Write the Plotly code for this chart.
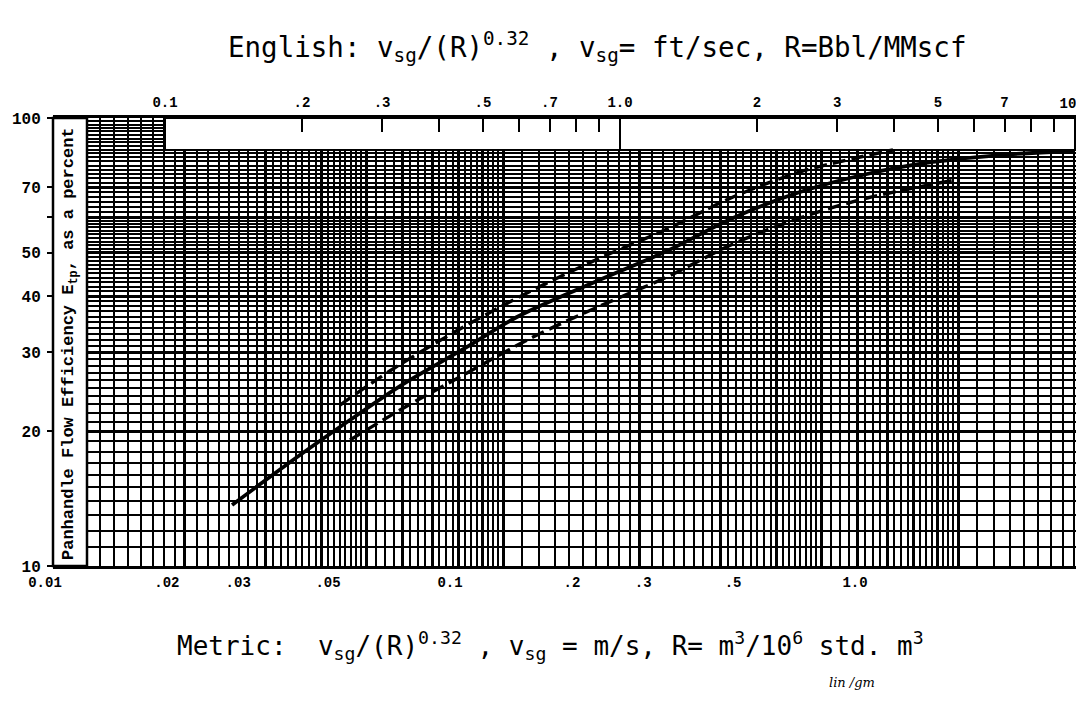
import plotly.graph_objects as go
import math

# ---------------- data ----------------
# English abscissa v_sg/(R)^0.32 (ft/sec, Bbl/MMscf) and efficiency E_tp (%)
SOLID_X = [0.1404, 0.1980, 0.2550, 0.3285, 0.4611, 0.5936, 0.8903, 1.2685, 1.772, 2.487, 3.491, 4.875, 6.842, 9.90]
SOLID_Y = [13.68, 17.69, 21.18, 25.22, 30.83, 35.95, 43.26, 50.49, 59.82, 68.35, 74.99, 79.77, 82.67, 84.39]

UPPER_X = [0.2424, 0.3170, 0.4611, 0.6439, 0.9037, 1.2685, 1.772, 2.487, 3.370, 3.981]
UPPER_Y = [22.87, 27.53, 34.51, 41.31, 48.70, 56.51, 66.63, 75.77, 81.83, 84.83]

LOWER_X = [0.2550, 0.3285, 0.4611, 0.6439, 0.9037, 1.2685, 1.772, 2.487, 3.491, 5.450]
LOWER_Y = [19.11, 22.29, 26.97, 32.44, 38.05, 44.17, 52.33, 59.82, 66.28, 72.70]

# tick labels
ENG_TICKS = [0.1, 0.2, 0.3, 0.5, 0.7, 1.0, 2, 3, 5, 7, 10]
ENG_LABELS = ["0.1", ".2", ".3", ".5", ".7", "1.0", "2", "3", "5", "7", ""]
ENG_MINOR = [0.4, 0.6, 0.8, 0.9, 4, 6, 8, 9]
ENG_LONG = [1.0, 10]
ENG_LONG_LABELS = ["", "10"]
MET_TICKS = [0.01, 0.02, 0.03, 0.05, 0.1, 0.2, 0.3, 0.5, 1.0]
MET_LABELS = ["0.01", ".02", ".03", ".05", "0.1", ".2", ".3", ".5", "1.0"]
Y_TICKS = [10, 20, 30, 40, 50, 60, 70, 100]
Y_LABELS = ["10", "20", "30", "40", "50", "", "70", "100"]

# graph-paper ruling (metric paper, cycles 0.01-0.1-1-10)
PAPER_CYCLES = [0.01, 0.1, 1.0]
PAPER_SEGMENTS = [(1, 2, 0.1), (2, 5, 0.125), (5, 10, 0.25)]
Y_SEGMENTS = [(10, 60, 1.0), (60, 100, 5 / 3)]
Y_MAJOR = [10, 20, 30, 40, 50, 60, 70, 100]

# ---------------- geometry (page pixels) ----------------
OFF = 8                      # default page margin of the browser
W, H = 1084 - OFF, 702 - 2 * OFF
PL, L, R, T, B = 30, 53, 1080, 118, 566     # plot area left, y-axis line, right, top, bottom
PW, PH = R - PL, B - T


def px_x(p):
    return (p - PL) / PW


def px_y(p):
    return (B - p) / PH


def log_range(px_ref, val_ref, px_per_dec, left):
    lo = math.log10(val_ref) + (left - px_ref) / px_per_dec
    hi = math.log10(val_ref) + (R - px_ref) / px_per_dec
    return [lo, hi]


paper_range = log_range(503, 0.1, 455, L)
eng_range = log_range(165, 0.1, 455, L)
met_range = log_range(45, 0.01, 405, PL)
box_low = 10 ** (1 + (B - 150) / PH)     # lower edge of the blank label strip


def ruling(cycles, segments, major_set=None):
    minor, major = [], []
    for c in cycles:
        for lo, hi, st in segments:
            n = int(round((hi - lo) / st))
            for i in range(n):
                v = lo + i * st
                is_major = (abs(v - round(v)) < 1e-9) if major_set is None else \
                    any(abs(v - m) < 1e-9 for m in major_set)
                (major if is_major else minor).append(c * v)
    return minor, major


x_minor, x_major = ruling(PAPER_CYCLES, PAPER_SEGMENTS)
y_minor, _ = ruling([1], Y_SEGMENTS, Y_MAJOR)

FONT_T = "DejaVu Sans Mono"
TICKFONT = dict(family="Liberation Mono", size=14, color="black", weight="bold")
YTICKFONT = dict(family="Liberation Mono", size=16, color="black", weight="bold")
d0 = px_x(L)

fig = go.Figure()
# empty traces so that every axis is drawn
for ax, ay in [("x", "y"), ("x4", "y"), ("x3", "y2")]:
    fig.add_trace(go.Scatter(x=[], y=[], xaxis=ax, yaxis=ay, mode="lines",
                             showlegend=False, hoverinfo="skip"))
# blank label strip of the chart paper (English scale box)
bx0, bx1 = ENG_TICKS[0], ENG_TICKS[-1]
fig.add_trace(go.Scatter(x=[bx0, bx1, bx1, bx0, bx0], y=[box_low, box_low, 100, 100, box_low],
                         xaxis="x2", yaxis="y", mode="lines", fill="toself",
                         fillcolor="white", line=dict(color="black", width=2),
                         showlegend=False, hoverinfo="skip"))
fig.add_trace(go.Scatter(x=UPPER_X, y=UPPER_Y, xaxis="x2", yaxis="y", mode="lines",
                         line=dict(color="black", width=3.4, dash="13px,6px", shape="spline"),
                         showlegend=False, hoverinfo="skip"))
fig.add_trace(go.Scatter(x=SOLID_X, y=SOLID_Y, xaxis="x2", yaxis="y", mode="lines",
                         line=dict(color="black", width=3.8, shape="spline"),
                         showlegend=False, hoverinfo="skip"))
fig.add_trace(go.Scatter(x=LOWER_X, y=LOWER_Y, xaxis="x2", yaxis="y", mode="lines",
                         line=dict(color="black", width=3.4, dash="13px,6px", shape="spline"),
                         showlegend=False, hoverinfo="skip"))

fig.update_layout(
    width=W, height=H,
    margin=dict(l=PL - OFF, r=W - (R - OFF), t=T - OFF, b=H - (B - OFF), autoexpand=False),
    paper_bgcolor="white", plot_bgcolor="rgba(255,255,255,0)",
    showlegend=False,
    xaxis=dict(type="log", domain=[d0, 1], range=paper_range, anchor="y",
               tickmode="array", tickvals=x_major,
               showticklabels=False, ticks="", showgrid=True, gridcolor="black", gridwidth=3,
               showline=True, linewidth=3, linecolor="black", zeroline=False,
               minor=dict(tickmode="array", tickvals=x_minor, showgrid=True,
                          gridcolor="black", gridwidth=2, ticks="")),
    xaxis2=dict(type="log", range=eng_range, overlaying="x", side="top", anchor="y",
                tickmode="array", tickvals=ENG_TICKS, ticktext=ENG_LABELS,
                ticks="inside", ticklen=14, tickwidth=2, tickcolor="black",
                showgrid=False, showline=True, linewidth=3, linecolor="black",
                tickfont=TICKFONT, ticklabelstandoff=2,
                minor=dict(tickmode="array", tickvals=ENG_MINOR, ticks="inside",
                           ticklen=14, tickwidth=2, tickcolor="black", showgrid=False)),
    xaxis4=dict(type="log", range=eng_range, overlaying="x", side="top", anchor="y",
                tickmode="array", tickvals=ENG_LONG, ticktext=ENG_LONG_LABELS,
                ticks="inside", ticklen=32, tickwidth=2, tickcolor="black",
                tickfont=TICKFONT, ticklabelstandoff=6, ticklabelshift=-7,
                showgrid=False, showline=False),
    xaxis3=dict(type="log", domain=[0, 1], range=met_range, side="bottom", anchor="y2",
                tickmode="array", tickvals=MET_TICKS, ticktext=MET_LABELS,
                ticks="", showgrid=False, showline=False, zeroline=False,
                tickfont=TICKFONT, ticklabelstandoff=6),
    yaxis2=dict(type="log", range=[1, 2], anchor="x3", visible=False, showgrid=False),
    yaxis=dict(type="log", range=[1, 2], anchor="free", position=d0, side="left",
               tickmode="array", tickvals=Y_TICKS, ticktext=Y_LABELS,
               ticks="outside", ticklen=5, tickwidth=2, tickcolor="black",
               showgrid=True, gridcolor="black", gridwidth=3,
               showline=True, linewidth=3, linecolor="black", zeroline=False,
               tickfont=YTICKFONT, ticklabelstandoff=3,
               minor=dict(tickmode="array", tickvals=y_minor, showgrid=True,
                          gridcolor="black", gridwidth=1.8, ticks="")),
)

# blank title strip at the left edge of the chart paper
fig.add_shape(type="rect", xref="paper", yref="paper",
              x0=px_x(L), x1=px_x(87), y0=0, y1=1,
              fillcolor="white", line=dict(color="black", width=2.5), layer="above")

SG = '<sub>sg</sub>'


def sup(t):
    return '<sup>%s</sup>' % t


title_txt = ("English: v" + SG + "/(R)" + sup("0.32") + " , v" + SG + "= ft/sec, R=Bbl/MMscf")
metric_txt = ("Metric:  v" + SG + "/(R)" + sup("0.32") + " , v" + SG +
              " = m/s, R= m" + sup("3") + "/10" + sup("6") + " std. m" + sup("3"))

fig.add_annotation(text=title_txt, xref="paper", yref="paper",
                   x=px_x(597), y=px_y(47), showarrow=False,
                   xanchor="center", yanchor="middle",
                   font=dict(family=FONT_T, size=27.5, color="black"))
fig.add_annotation(text=metric_txt, xref="paper", yref="paper",
                   x=px_x(550), y=px_y(645), showarrow=False,
                   xanchor="center", yanchor="middle",
                   font=dict(family=FONT_T, size=26, color="black"))
fig.add_annotation(text="<i>lin /gm</i>", xref="paper", yref="paper",
                   x=px_x(852), y=px_y(682), showarrow=False,
                   xanchor="center", yanchor="middle",
                   font=dict(family="DejaVu Serif", size=13, color="black"))
fig.add_annotation(text="Panhandle Flow Efficiency E<sub>tp</sub>, as a percent",
                   xref="paper", yref="paper", x=px_x(70), y=px_y(344),
                   showarrow=False, textangle=-90, xanchor="center", yanchor="middle",
                   font=dict(family="Liberation Mono", size=17, color="black", weight="bold"))

fig.write_html("out.html")
